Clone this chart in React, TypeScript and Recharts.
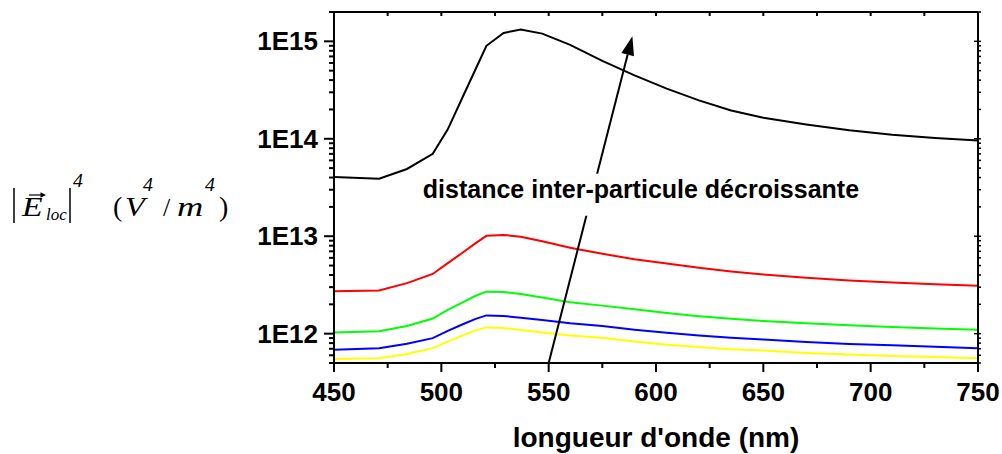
import { LineChart, Line, XAxis, YAxis, ReferenceLine, ReferenceDot } from "recharts";

const wavelengths = [450, 471, 484, 496, 503, 510, 516, 521, 529, 537, 547, 560, 575, 590, 605, 620, 635, 650, 670, 690, 710, 730, 750];
const black = [4.05e13, 3.9e13, 4.9e13, 7.0e13, 1.25e14, 2.7e14, 5.2e14, 9.0e14, 1.22e15, 1.32e15, 1.2e15, 9.2e14, 6.3e14, 4.47e14, 3.27e14, 2.48e14, 1.95e14, 1.64e14, 1.4e14, 1.22e14, 1.1e14, 1.02e14, 9.6e13];
const red = [2.72e12, 2.77e12, 3.3e12, 4.1e12, 5.3e12, 6.8e12, 8.5e12, 1.01e13, 1.03e13, 9.9e12, 8.9e12, 7.6e12, 6.6e12, 5.8e12, 5.25e12, 4.75e12, 4.35e12, 4.05e12, 3.75e12, 3.52e12, 3.36e12, 3.22e12, 3.1e12];
const green = [1.03e12, 1.06e12, 1.2e12, 1.43e12, 1.75e12, 2.1e12, 2.45e12, 2.7e12, 2.68e12, 2.55e12, 2.35e12, 2.1e12, 1.94e12, 1.78e12, 1.63e12, 1.51e12, 1.42e12, 1.35e12, 1.28e12, 1.22e12, 1.17e12, 1.13e12, 1.1e12];
const blue = [6.85e11, 7.1e11, 7.9e11, 9.0e11, 1.07e12, 1.25e12, 1.42e12, 1.54e12, 1.52e12, 1.46e12, 1.38e12, 1.28e12, 1.2e12, 1.1e12, 1.02e12, 9.6e11, 9.1e11, 8.7e11, 8.2e11, 7.85e11, 7.6e11, 7.35e11, 7.1e11];
const yellow = [5.5e11, 5.6e11, 6.2e11, 7.1e11, 8.3e11, 9.6e11, 1.08e12, 1.16e12, 1.14e12, 1.09e12, 1.03e12, 9.6e11, 9.1e11, 8.3e11, 7.7e11, 7.3e11, 6.9e11, 6.7e11, 6.35e11, 6.1e11, 5.9e11, 5.75e11, 5.6e11];

const xTicks = [450, 475, 500, 525, 550, 575, 600, 625, 650, 675, 700, 725, 750];
const xLabelled = [450, 500, 550, 600, 650, 700, 750];
const yMajor = [1e12, 1e13, 1e14, 1e15];
const yMinor = [
  5e11, 6e11, 7e11, 8e11, 9e11,
  2e12, 3e12, 4e12, 5e12, 6e12, 7e12, 8e12, 9e12,
  2e13, 3e13, 4e13, 5e13, 6e13, 7e13, 8e13, 9e13,
  2e14, 3e14, 4e14, 5e14, 6e14, 7e14, 8e14, 9e14,
  2e15,
];
const yLabels = ["1E12", "1E13", "1E14", "1E15"];

const data = wavelengths.map((w, i) => ({
  w,
  black: black[i],
  red: red[i],
  green: green[i],
  blue: blue[i],
  yellow: yellow[i],
}));

const font = '"Liberation Sans", Arial, sans-serif';

const BottomTick = (props: any) => {
  const { x, y, payload } = props;
  const major = xLabelled.includes(payload.value);
  return (
    <g>
      <line x1={x} y1={y} x2={x} y2={y + (major ? 9 : 5)} stroke="#000" strokeWidth={2} />
      {major && (
        <text x={x} y={y + 38} textAnchor="middle" fontSize={26} fontWeight="bold" fontFamily={font} fill="#000">
          {payload.value}
        </text>
      )}
    </g>
  );
};

const TopTick = (props: any) => {
  const { x, y } = props;
  return <line x1={x} y1={y} x2={x} y2={y + 4} stroke="#000" strokeWidth={2} />;
};

const LeftTick = (props: any) => {
  const { x, y, payload } = props;
  const idx = yMajor.indexOf(payload.value);
  const major = idx >= 0;
  return (
    <g>
      <line x1={x} y1={y} x2={x - (major ? 10 : 5)} y2={y} stroke="#000" strokeWidth={2} />
      {major && (
        <text x={x - 16} y={y + 9} textAnchor="end" fontSize={26} fontWeight="bold" fontFamily={font} fill="#000">
          {yLabels[idx]}
        </text>
      )}
    </g>
  );
};

const RightTick = (props: any) => {
  const { x, y, payload } = props;
  const major = yMajor.includes(payload.value);
  return <line x1={x - (major ? 4 : 0)} y1={y} x2={x + 3} y2={y} stroke="#000" strokeWidth={1.5} />;
};

const Arrow = (props: any) => {
  const { x1, y1, x2, y2 } = props;
  const dx = x2 - x1;
  const dy = y2 - y1;
  const len = Math.hypot(dx, dy);
  const ux = dx / len;
  const uy = dy / len;
  const hl = 19;
  const hw = 6.5;
  const bx = x2 - ux * hl;
  const by = y2 - uy * hl;
  const px = -uy;
  const py = ux;
  return (
    <g>
      <line x1={x1} y1={y1} x2={bx} y2={by} stroke="#000" strokeWidth={2} />
      <polygon
        points={`${x2},${y2} ${bx + px * hw},${by + py * hw} ${bx - px * hw},${by - py * hw}`}
        fill="#000"
      />
    </g>
  );
};

const Annotation = (props: any) => {
  const { cx, cy } = props;
  return (
    <g>
      <rect x={cx - 222} y={cy - 16} width={444} height={42} fill="#fff" />
      <text x={cx} y={cy + 8} textAnchor="middle" fontSize={25} fontWeight="bold" fontFamily={font} fill="#000">
        distance inter-particule décroissante
      </text>
    </g>
  );
};

// stretched serif glyph for the y-axis formula
const Glyph = ({ x, y, size, sx = 1, italic = false, children }: any) => (
  <text
    transform={`translate(${x},${y}) scale(${sx},1)`}
    fontSize={size}
    fontStyle={italic ? "italic" : "normal"}
  >
    {children}
  </text>
);

const YTitle = () => {
  const serif = '"Liberation Serif", "Times New Roman", serif';
  return (
    <svg width={260} height={260} style={{ position: "absolute", left: 0, top: 0, pointerEvents: "none" }}>
      <g fontFamily={serif} fill="#000">
        <line x1={14} y1={188} x2={14} y2={223} stroke="#000" strokeWidth={1.5} />
        <Glyph x={22} y={216} size={27} sx={1.25} italic>E</Glyph>
        <line x1={29} y1={195} x2={43} y2={195} stroke="#000" strokeWidth={1.2} />
        <polygon points="46,195 40.5,192.3 40.5,197.7" fill="#000" />
        <Glyph x={46} y={220} size={17} italic>loc</Glyph>
        <line x1={70} y1={188} x2={70} y2={223} stroke="#000" strokeWidth={1.5} />
        <Glyph x={73} y={187} size={18} sx={1.1} italic>4</Glyph>
        <Glyph x={113} y={216} size={28}>(</Glyph>
        <Glyph x={125} y={216} size={27} sx={1.2} italic>V</Glyph>
        <Glyph x={143} y={191} size={18} sx={1.1} italic>4</Glyph>
        <Glyph x={163} y={216} size={26}>/</Glyph>
        <Glyph x={177} y={216} size={27} sx={1.35} italic>m</Glyph>
        <Glyph x={205} y={191} size={18} sx={1.1} italic>4</Glyph>
        <Glyph x={219} y={216} size={28}>)</Glyph>
      </g>
    </svg>
  );
};

const series = [
  { key: "black", color: "#000000" },
  { key: "red", color: "#ff0000" },
  { key: "green", color: "#00ff00" },
  { key: "blue", color: "#0000ff" },
  { key: "yellow", color: "#ffff00" },
];

const App = () => {
  return (
    <div style={{ position: "absolute", left: 0, top: 0, width: 1002, height: 454, background: "#fff" }}>
      <LineChart width={1002} height={454} data={data} margin={{ top: 8, right: 18, bottom: 31, left: 254 }}>
        <XAxis
          dataKey="w"
          type="number"
          domain={[450, 750]}
          allowDataOverflow
          ticks={xTicks}
          interval={0}
          tickSize={0}
          tickMargin={0}
          tickLine={false}
          tick={<BottomTick />}
          height={60}
          axisLine={{ stroke: "#000", strokeWidth: 2 }}
          label={{
            value: "longueur d'onde (nm)",
            position: "bottom",
            offset: 4,
            style: { fontSize: 28, fontWeight: "bold", fontFamily: font, fill: "#000" },
          }}
        />
        <XAxis
          xAxisId="top"
          orientation="top"
          dataKey="w"
          type="number"
          domain={[450, 750]}
          allowDataOverflow
          ticks={xTicks}
          interval={0}
          tickSize={0}
          tickMargin={0}
          tickLine={false}
          tick={<TopTick />}
          height={4}
          axisLine={{ stroke: "#000", strokeWidth: 2 }}
        />
        <YAxis
          type="number"
          scale="log"
          domain={[5e11, 2e15]}
          allowDataOverflow
          ticks={[...yMinor, ...yMajor]}
          interval={0}
          tickSize={0}
          tickMargin={0}
          tickLine={false}
          tick={<LeftTick />}
          width={80}
          axisLine={{ stroke: "#000", strokeWidth: 2 }}
        />
        <YAxis
          yAxisId="right"
          orientation="right"
          type="number"
          scale="log"
          domain={[5e11, 2e15]}
          allowDataOverflow
          ticks={[...yMinor, ...yMajor]}
          interval={0}
          tickSize={0}
          tickMargin={0}
          tickLine={false}
          tick={<RightTick />}
          width={6}
          axisLine={{ stroke: "#000", strokeWidth: 2 }}
        />
        {series.map((s) => (
          <Line
            key={s.key}
            dataKey={s.key}
            type="linear"
            stroke={s.color}
            strokeWidth={2}
            dot={false}
            activeDot={false}
            isAnimationActive={false}
          />
        ))}
        <ReferenceLine
          segment={[
            { x: 550, y: 5e11 },
            { x: 589, y: 1.13e15 },
          ]}
          ifOverflow="visible"
          shape={<Arrow />}
        />
        <ReferenceDot x={593} y={3e13} r={0} ifOverflow="visible" shape={<Annotation />} />
      </LineChart>
      <YTitle />
    </div>
  );
};

export default App;
